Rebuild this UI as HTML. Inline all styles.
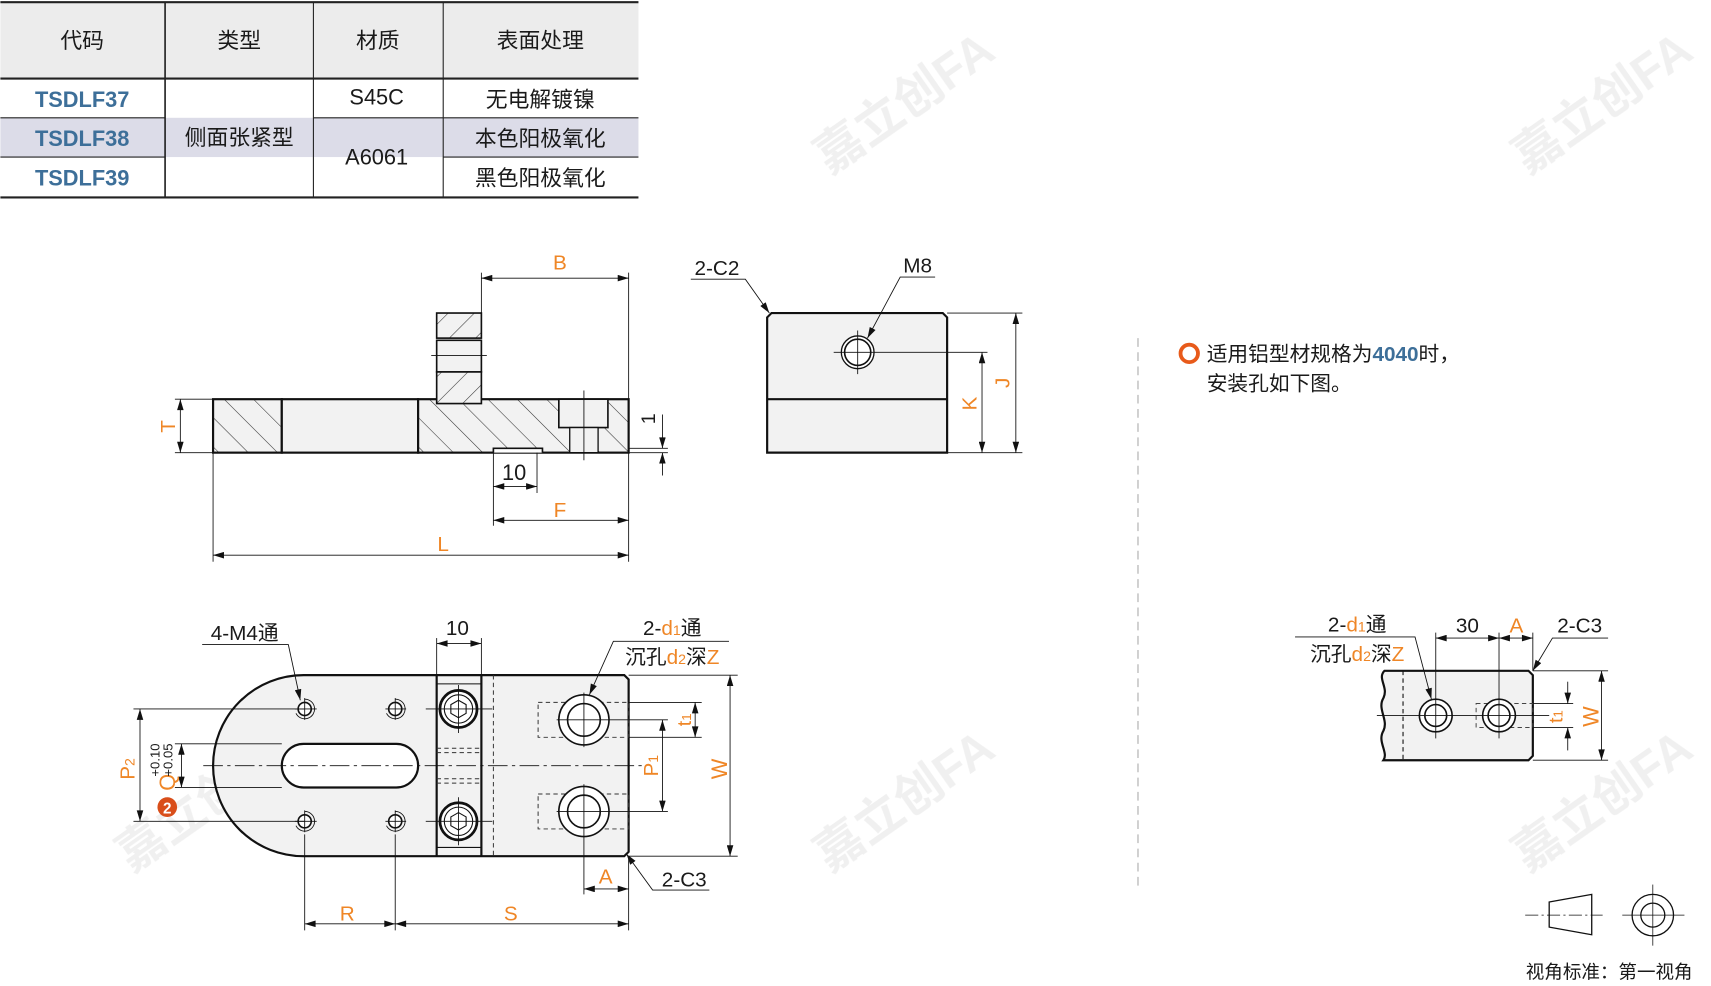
<!DOCTYPE html>
<html><head><meta charset="utf-8"><style>
html,body{margin:0;padding:0;background:#fff;width:1711px;height:986px;overflow:hidden}
svg{display:block}
text{font-family:"Liberation Sans","Noto Sans CJK SC",sans-serif}
.o{fill:#ef8626}.k{fill:#1a1a1a}
</style></head><body>
<svg width="1711" height="986" viewBox="0 0 1568 904" xmlns="http://www.w3.org/2000/svg">
<defs>
<pattern id="h" width="19" height="19" patternUnits="userSpaceOnUse" patternTransform="rotate(-45)"><rect width="19" height="19" fill="#f2f2f2"/><line x1="0" y1="0" x2="0" y2="19" stroke="#333" stroke-width="1"/></pattern>
<pattern id="h2" width="17" height="17" patternUnits="userSpaceOnUse" patternTransform="rotate(45)"><rect width="17" height="17" fill="#f2f2f2"/><line x1="0" y1="0" x2="0" y2="17" stroke="#333" stroke-width="1"/></pattern>
<marker id="a" viewBox="0 0 10 6" refX="10" refY="3" markerWidth="14" markerHeight="6" orient="auto-start-reverse" markerUnits="userSpaceOnUse"><path d="M0,0L10,3L0,6z" fill="#111"/></marker>
</defs>
<!-- watermarks -->
<g fill="#ededed" font-size="44" font-weight="bold" opacity="0.8">
<text transform="translate(760,160) rotate(-35)">嘉立创FA</text>
<text transform="translate(1400,160) rotate(-35)">嘉立创FA</text>
<text transform="translate(120,800) rotate(-35)">嘉立创FA</text>
<text transform="translate(760,800) rotate(-35)">嘉立创FA</text>
<text transform="translate(1400,800) rotate(-35)">嘉立创FA</text>
</g>
<!-- table -->
<rect x="0" y="2" width="585" height="70" fill="#ececec"/>
<rect x="0" y="108" width="585" height="36" fill="#dcdce8"/>
<g stroke="#222" fill="none">
<line x1="0" y1="2" x2="585" y2="2" stroke-width="2"/>
<line x1="0" y1="72" x2="585" y2="72" stroke-width="2"/>
<line x1="0" y1="181" x2="585" y2="181" stroke-width="2"/>
<line x1="151" y1="2" x2="151" y2="181" stroke-width="1.5"/>
<line x1="287" y1="2" x2="287" y2="181" stroke-width="1"/>
<line x1="406" y1="2" x2="406" y2="181" stroke-width="1"/>
<line x1="0" y1="108" x2="151" y2="108"/><line x1="0" y1="144" x2="151" y2="144"/>
<line x1="287" y1="108" x2="406" y2="108"/>
<line x1="406" y1="108" x2="585" y2="108"/><line x1="406" y1="144" x2="585" y2="144"/>
</g>
<g font-size="20" text-anchor="middle" class="k">
<text x="75" y="44">代码</text><text x="219" y="44">类型</text><text x="346" y="44">材质</text><text x="495" y="44">表面处理</text>
<text x="219" y="133">侧面张紧型</text><text x="345" y="96">S45C</text><text x="345" y="151">A6061</text>
<text x="495" y="98">无电解镀镍</text><text x="495" y="134">本色阳极氧化</text><text x="495" y="170">黑色阳极氧化</text>
</g>
<g font-size="20" font-weight="bold" text-anchor="middle" fill="#3d6f99">
<text x="75" y="98">TSDLF37</text><text x="75" y="134">TSDLF38</text><text x="75" y="170">TSDLF39</text>
</g>

<!-- side view -->
<g stroke="#111" stroke-width="2">
<rect x="195" y="366" width="63" height="49" fill="url(#h)"/>
<rect x="258" y="366" width="125" height="49" fill="#f2f2f2"/>
<rect x="383" y="366" width="193" height="49" fill="url(#h)"/>
<rect x="512" y="366" width="45" height="26" fill="#f2f2f2" stroke-width="1.5"/>
<rect x="522" y="392" width="26" height="23" fill="#f2f2f2" stroke-width="1.2"/>
<path d="M452,415V411H497V415" fill="#fff" stroke-width="1.5"/>
<rect x="400" y="287" width="41" height="23" fill="url(#h2)" stroke-width="1.5"/>
<rect x="400" y="312" width="41" height="29" fill="#f2f2f2" stroke-width="1.5"/>
<rect x="400" y="341" width="41" height="29" fill="url(#h2)" stroke-width="1.5"/>
</g>
<g stroke="#111" stroke-width="0.8" fill="none">
<line x1="395" y1="326" x2="446" y2="326"/>
<line x1="535" y1="358" x2="535" y2="422"/>
<line x1="441" y1="250" x2="441" y2="287"/><line x1="576" y1="250" x2="576" y2="515"/>
<line x1="441" y1="255" x2="576" y2="255" marker-start="url(#a)" marker-end="url(#a)"/>
<line x1="160" y1="366" x2="195" y2="366"/><line x1="160" y1="415" x2="195" y2="415"/>
<line x1="165" y1="366" x2="165" y2="415" marker-start="url(#a)" marker-end="url(#a)"/>
<line x1="576" y1="411" x2="612" y2="411"/><line x1="576" y1="415" x2="612" y2="415"/>
<line x1="607" y1="380" x2="607" y2="411" marker-end="url(#a)"/><line x1="607" y1="436" x2="607" y2="415" marker-end="url(#a)"/>
<line x1="452" y1="415" x2="452" y2="482"/><line x1="492" y1="415" x2="492" y2="452"/>
<line x1="452" y1="446" x2="492" y2="446" marker-start="url(#a)" marker-end="url(#a)"/>
<line x1="452" y1="477" x2="576" y2="477" marker-start="url(#a)" marker-end="url(#a)"/>
<line x1="195" y1="415" x2="195" y2="515"/>
<line x1="195" y1="509" x2="576" y2="509" marker-start="url(#a)" marker-end="url(#a)"/>
</g>
<text x="513" y="247" font-size="19" class="o" text-anchor="middle">B</text>
<text transform="translate(160,391) rotate(-90)" font-size="19" class="o" text-anchor="middle">T</text>
<text transform="translate(600,384) rotate(-90)" font-size="18" class="k" text-anchor="middle">1</text>
<text x="471" y="440" font-size="20" class="k" text-anchor="middle">10</text>
<text x="513" y="474" font-size="19" class="o" text-anchor="middle">F</text>
<text x="406" y="505" font-size="19" class="o" text-anchor="middle">L</text>

<!-- end view -->
<path d="M707,287H864L868,291V415H703V291Z" fill="#f2f2f2" stroke="#111" stroke-width="2"/>
<line x1="703" y1="366" x2="868" y2="366" stroke="#111" stroke-width="2"/>
<circle cx="786" cy="323" r="15" fill="#fff" stroke="#111" stroke-width="1.2"/>
<circle cx="786" cy="323" r="12" fill="none" stroke="#111" stroke-width="1.5"/>
<g stroke="#111" stroke-width="0.8" fill="none">
<line x1="764" y1="323" x2="905" y2="323"/><line x1="786" y1="303" x2="786" y2="343"/>
<line x1="868" y1="287" x2="937" y2="287"/><line x1="868" y1="415" x2="937" y2="415"/>
<line x1="900" y1="323" x2="900" y2="415" marker-start="url(#a)" marker-end="url(#a)"/>
<line x1="931" y1="287" x2="931" y2="415" marker-start="url(#a)" marker-end="url(#a)"/>
<polyline points="633,256 683,256 705,287" marker-end="url(#a)"/>
<polyline points="857,254 825,254 795,310" marker-end="url(#a)"/>
</g>
<text x="657" y="252" font-size="19" class="k" text-anchor="middle">2-C2</text>
<text x="841" y="250" font-size="19" class="k" text-anchor="middle">M8</text>
<text transform="translate(895,370) rotate(-90)" font-size="19" class="o" text-anchor="middle">K</text>
<text transform="translate(925,351) rotate(-90)" font-size="19" class="o" text-anchor="middle">J</text>

<!-- divider & note -->
<line x1="1043" y1="310" x2="1043" y2="815" stroke="#aaa" stroke-width="1" stroke-dasharray="8,5"/>
<circle cx="1090" cy="324" r="8" fill="none" stroke="#e85a1a" stroke-width="3.5"/>
<text x="1106" y="331" font-size="19" class="k">适用铝型材规格为<tspan fill="#3d6f99" font-weight="bold">4040</tspan>时，</text>
<text x="1106" y="358" font-size="19" class="k">安装孔如下图。</text>

<!-- bottom view -->
<path d="M278,619H572L576,623V781L572,785H278A83,83 0 0 1 278,619Z" fill="#f2f2f2" stroke="#111" stroke-width="2"/>
<line x1="400" y1="619" x2="400" y2="785" stroke="#111" stroke-width="2"/>
<line x1="441" y1="619" x2="441" y2="785" stroke="#111" stroke-width="2"/>
<line x1="400" y1="627" x2="441" y2="627" stroke="#111" stroke-width="1"/>
<line x1="400" y1="777" x2="441" y2="777" stroke="#111" stroke-width="1"/>
<g stroke="#333" stroke-width="0.9" stroke-dasharray="4,3" fill="none">
<line x1="452" y1="619" x2="452" y2="785"/>
<line x1="400" y1="686" x2="441" y2="686"/><line x1="400" y1="690" x2="441" y2="690"/>
<line x1="400" y1="714" x2="441" y2="714"/><line x1="400" y1="718" x2="441" y2="718"/>
<rect x="493" y="644" width="83" height="32"/><rect x="493" y="728" width="83" height="32"/>
</g>
<rect x="258" y="682" width="125" height="40" rx="20" fill="#fff" stroke="#111" stroke-width="2"/>
<g fill="#fff" stroke="#111">
<circle cx="279" cy="650" r="6" stroke-width="1.5"/><circle cx="362" cy="650" r="6" stroke-width="1.5"/>
<circle cx="279" cy="753" r="6" stroke-width="1.5"/><circle cx="362" cy="753" r="6" stroke-width="1.5"/>
<circle cx="420" cy="650" r="17" stroke-width="2.5"/><circle cx="420" cy="753" r="17" stroke-width="2.5"/>
<circle cx="420" cy="650" r="13" stroke-width="1"/><circle cx="420" cy="753" r="13" stroke-width="1"/>
<polygon points="413,646 420,642 427,646 427,654 420,658 413,654" stroke-width="1"/>
<polygon points="413,749 420,745 427,749 427,757 420,761 413,757" stroke-width="1"/>
<circle cx="535" cy="660" r="23" stroke-width="1.5"/><circle cx="535" cy="660" r="15" stroke-width="1.5"/>
<circle cx="535" cy="744" r="23" stroke-width="1.5"/><circle cx="535" cy="744" r="15" stroke-width="1.5"/>
</g>
<g fill="none" stroke="#111" stroke-width="0.8">
<path d="M279,641A9,9 0 1 1 271,654"/><path d="M362,641A9,9 0 1 1 354,654"/>
<path d="M279,744A9,9 0 1 1 271,757"/><path d="M362,744A9,9 0 1 1 354,757"/>
</g>
<g stroke="#111" stroke-width="0.8" fill="none">
<line x1="186" y1="702" x2="590" y2="702" stroke-dasharray="18,4,3,4"/>
<line x1="270" y1="650" x2="290" y2="650"/><line x1="279" y1="640" x2="279" y2="660"/>
<line x1="353" y1="650" x2="372" y2="650"/><line x1="362" y1="640" x2="362" y2="660"/>
<line x1="270" y1="753" x2="290" y2="753"/><line x1="279" y1="743" x2="279" y2="763"/>
<line x1="353" y1="753" x2="372" y2="753"/><line x1="362" y1="743" x2="362" y2="763"/>
<line x1="390" y1="650" x2="451" y2="650"/><line x1="420" y1="628" x2="420" y2="672"/>
<line x1="390" y1="753" x2="451" y2="753"/><line x1="420" y1="731" x2="420" y2="775"/>
<line x1="510" y1="660" x2="612" y2="660"/><line x1="535" y1="635" x2="535" y2="685"/>
<line x1="510" y1="744" x2="612" y2="744"/><line x1="535" y1="719" x2="535" y2="820"/>
<line x1="122" y1="650" x2="279" y2="650"/><line x1="122" y1="753" x2="279" y2="753"/>
<line x1="128" y1="650" x2="128" y2="753" marker-start="url(#a)" marker-end="url(#a)"/>
<line x1="160" y1="682" x2="258" y2="682"/><line x1="160" y1="722" x2="258" y2="722"/>
<line x1="166" y1="682" x2="166" y2="722" marker-start="url(#a)" marker-end="url(#a)"/>
<line x1="607" y1="660" x2="607" y2="744" marker-start="url(#a)" marker-end="url(#a)"/>
<line x1="576" y1="644" x2="643" y2="644"/><line x1="576" y1="676" x2="643" y2="676"/>
<line x1="637" y1="644" x2="637" y2="676" marker-start="url(#a)" marker-end="url(#a)"/>
<line x1="576" y1="619" x2="676" y2="619"/><line x1="576" y1="785" x2="676" y2="785"/>
<line x1="669" y1="619" x2="669" y2="785" marker-start="url(#a)" marker-end="url(#a)"/>
<line x1="400" y1="585" x2="400" y2="619"/><line x1="441" y1="585" x2="441" y2="619"/>
<line x1="400" y1="590" x2="441" y2="590" marker-start="url(#a)" marker-end="url(#a)"/>
<line x1="279" y1="765" x2="279" y2="853"/><line x1="362" y1="765" x2="362" y2="853"/>
<line x1="576" y1="785" x2="576" y2="853"/>
<line x1="279" y1="847" x2="362" y2="847" marker-start="url(#a)" marker-end="url(#a)"/>
<line x1="362" y1="847" x2="576" y2="847" marker-start="url(#a)" marker-end="url(#a)"/>
<line x1="535" y1="815" x2="576" y2="815" marker-start="url(#a)" marker-end="url(#a)"/>
<polyline points="185,591 264,591 275,642" marker-end="url(#a)"/>
<polyline points="668,588 562,588 540,637" marker-end="url(#a)"/>
<polyline points="650,816 598,816 574,783" marker-end="url(#a)"/>
</g>
<text x="224" y="587" font-size="19" class="k" text-anchor="middle">4-M4通</text>
<text x="419" y="582" font-size="19" class="k" text-anchor="middle">10</text>
<text x="616" y="582" font-size="19" class="k" text-anchor="middle">2-<tspan class="o">d</tspan><tspan class="o" font-size="13">1</tspan>通</text>
<text x="616" y="609" font-size="19" class="k" text-anchor="middle">沉孔<tspan class="o">d</tspan><tspan class="o" font-size="13">2</tspan>深<tspan class="o">Z</tspan></text>
<text x="627" y="813" font-size="19" class="k" text-anchor="middle">2-C3</text>
<text x="555" y="810" font-size="19" class="o" text-anchor="middle">A</text>
<text x="318" y="844" font-size="19" class="o" text-anchor="middle">R</text>
<text x="468" y="844" font-size="19" class="o" text-anchor="middle">S</text>
<text transform="translate(123,705) rotate(-90)" font-size="19" class="o" text-anchor="middle">P<tspan font-size="13">2</tspan></text>
<text transform="translate(160,725) rotate(-90)" font-size="20" class="o">Q</text>
<text transform="translate(146,712) rotate(-90)" font-size="12" class="k">+0.10</text>
<text transform="translate(158,712) rotate(-90)" font-size="12" class="k">+0.05</text>
<circle cx="153" cy="740" r="9" fill="#d94e1a"/>
<text x="153" y="746" font-size="14" font-weight="bold" fill="#fff" text-anchor="middle">2</text>
<text transform="translate(603,702) rotate(-90)" font-size="19" class="o" text-anchor="middle">P<tspan font-size="13">1</tspan></text>
<text transform="translate(633,660) rotate(-90)" font-size="18" class="o" text-anchor="middle">t<tspan font-size="12">1</tspan></text>
<text transform="translate(666,705) rotate(-90)" font-size="20" class="o" text-anchor="middle">W</text>

<!-- right partial view -->
<path d="M1269,615H1401L1405,619V693L1401,697H1268C1273,690 1262,680 1268,670C1273,660 1262,650 1268,640C1273,630 1262,622 1269,615Z" fill="#f2f2f2" stroke="#111" stroke-width="2"/>
<line x1="1286" y1="615" x2="1286" y2="697" stroke="#111" stroke-width="1" stroke-dasharray="4,3"/>
<rect x="1353" y="645" width="52" height="22" fill="none" stroke="#444" stroke-width="0.9" stroke-dasharray="4,3"/>
<g fill="#fff" stroke="#111" stroke-width="1.5">
<circle cx="1316" cy="656" r="15"/><circle cx="1316" cy="656" r="10"/>
<circle cx="1374" cy="656" r="15"/><circle cx="1374" cy="656" r="10"/>
</g>
<g stroke="#111" stroke-width="0.8" fill="none">
<line x1="1262" y1="656" x2="1420" y2="656"/>
<line x1="1316" y1="580" x2="1316" y2="677"/><line x1="1374" y1="580" x2="1374" y2="677"/>
<line x1="1405" y1="580" x2="1405" y2="615"/>
<line x1="1316" y1="585" x2="1374" y2="585" marker-start="url(#a)" marker-end="url(#a)"/>
<line x1="1374" y1="585" x2="1405" y2="585" marker-start="url(#a)" marker-end="url(#a)"/>
<line x1="1405" y1="645" x2="1442" y2="645"/><line x1="1405" y1="667" x2="1442" y2="667"/>
<line x1="1437" y1="625" x2="1437" y2="645" marker-end="url(#a)"/><line x1="1437" y1="688" x2="1437" y2="667" marker-end="url(#a)"/>
<line x1="1405" y1="615" x2="1474" y2="615"/><line x1="1405" y1="697" x2="1474" y2="697"/>
<line x1="1468" y1="615" x2="1468" y2="697" marker-start="url(#a)" marker-end="url(#a)"/>
<polyline points="1187,584 1297,584 1312,641" marker-end="url(#a)"/>
<polyline points="1474,585 1423,585 1405,615" marker-end="url(#a)"/>
</g>
<text x="1244" y="579" font-size="19" class="k" text-anchor="middle">2-<tspan class="o">d</tspan><tspan class="o" font-size="13">1</tspan>通</text>
<text x="1244" y="606" font-size="19" class="k" text-anchor="middle">沉孔<tspan class="o">d</tspan><tspan class="o" font-size="13">2</tspan>深<tspan class="o">Z</tspan></text>
<text x="1345" y="580" font-size="19" class="k" text-anchor="middle">30</text>
<text x="1390" y="580" font-size="19" class="o" text-anchor="middle">A</text>
<text x="1448" y="580" font-size="19" class="k" text-anchor="middle">2-C3</text>
<text transform="translate(1432,657) rotate(-90)" font-size="18" class="o" text-anchor="middle">t<tspan font-size="12">1</tspan></text>
<text transform="translate(1465,657) rotate(-90)" font-size="20" class="o" text-anchor="middle">W</text>

<!-- view symbol -->
<g stroke="#111" stroke-width="1.2" fill="none">
<polygon points="1420,827 1459,820 1459,857 1420,850"/>
<line x1="1398" y1="839" x2="1469" y2="839" stroke-width="0.7" stroke-dasharray="12,3,2,3"/>
<circle cx="1515" cy="839" r="19"/><circle cx="1515" cy="839" r="11"/>
<line x1="1487" y1="839" x2="1544" y2="839" stroke-width="0.7"/><line x1="1515" y1="811" x2="1515" y2="867" stroke-width="0.7"/>
</g>
<text x="1475" y="897" font-size="17" class="k" text-anchor="middle">视角标准：第一视角</text>
</svg>
</body></html>
